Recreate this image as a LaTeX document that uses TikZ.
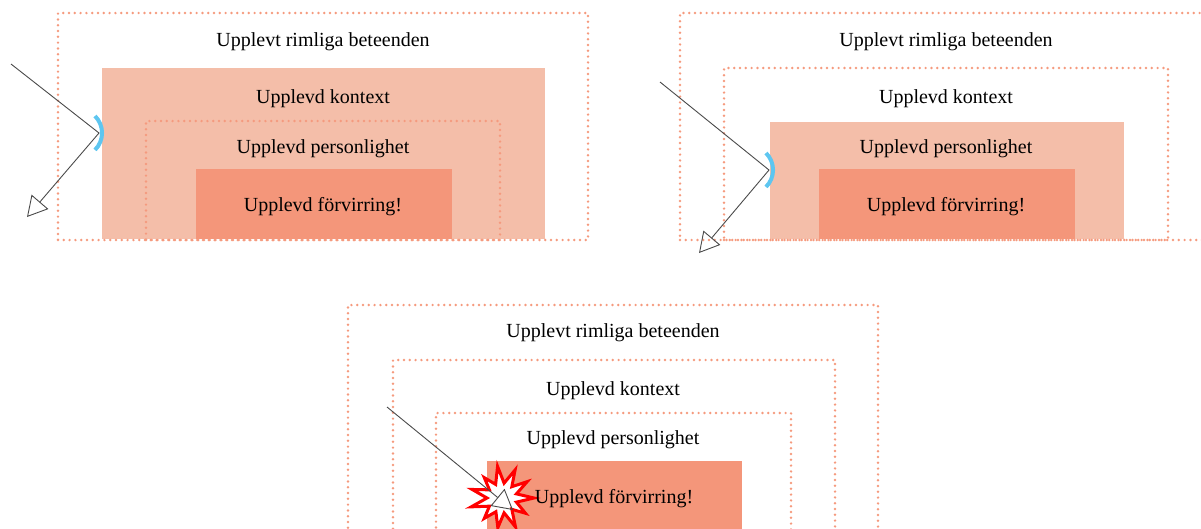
\documentclass[tikz,border=0pt]{standalone}
\usepackage{fontspec}
\setmainfont{Liberation Serif}
\usetikzlibrary{arrows.meta}
\definecolor{dotc}{HTML}{F59A7E}
\definecolor{lightfill}{HTML}{F4BEA9}
\definecolor{darkfill}{HTML}{F4967A}
\definecolor{mirrorc}{HTML}{5EC6F0}
\definecolor{raycol}{HTML}{4A4A4A}
\begin{document}
\begin{tikzpicture}[x=1pt,y=-1pt,
  frame/.style={draw=dotc, line width=2.7pt, line cap=round, dash pattern=on 0pt off 5.8pt,
    rectangle, anchor=north west, inner sep=0pt, outer sep=0pt},
  softbox/.style={fill=lightfill, rectangle, anchor=north west, inner sep=0pt, outer sep=0pt},
  corebox/.style={fill=darkfill, rectangle, anchor=north west, inner sep=0pt, outer sep=0pt},
  lbl/.style={anchor=base, font=\fontsize{20}{24}\selectfont, text=black, inner sep=0pt},
  ray/.style={draw=raycol, line width=0.9pt, line join=miter},
  raytip/.style={-{Triangle[open, length=20pt, width=22pt]}},
  mirror/.style={draw=mirrorc, line width=4pt},
  burst/.style={draw=red, fill=white, line width=3pt, line join=miter}
]
\useasboundingbox (0,0) rectangle (1201,528);
\clip (0,0) rectangle (1201,528);

% ---------- left panel: the ray is reflected by the context ----------
\node[softbox, minimum width=443pt, minimum height=171pt] (A-ctx) at (102,68) {};
\node[corebox, minimum width=256pt, minimum height=70pt] (A-core) at (196,169) {};
\node[frame, minimum width=530pt, minimum height=227pt] (A-out) at (58,13) {};
\node[frame, minimum width=354pt, minimum height=119pt] (A-pers) at (146,121) {};
\node[lbl] (A-t1) at (323,46) {Upplevt rimliga beteenden};
\node[lbl] (A-t2) at (323,103) {Upplevd kontext};
\node[lbl] (A-t3) at (323,153) {Upplevd personlighet};
\node[lbl] (A-t4) at (323,211) {Upplevd förvirring!};
\draw[mirror] (95,116) arc[start angle=-45, end angle=45, radius=24];
\coordinate (A-s) at (11,64);
\coordinate (A-b) at (99,133);
\coordinate (A-e) at (27,217);
\draw[ray, raytip] (A-s) -- (A-b) -- (A-e);

% ---------- right panel: the ray is reflected by the personality ----------
\node[softbox, minimum width=354pt, minimum height=117pt] (B-pers) at (770,122) {};
\node[corebox, minimum width=256pt, minimum height=70pt] (B-core) at (819,169) {};
\node[frame, minimum width=532pt, minimum height=227pt] (B-out) at (680,13) {};
\node[frame, minimum width=444pt, minimum height=172pt] (B-ctx) at (724,68) {};
\node[lbl] (B-t1) at (946,46) {Upplevt rimliga beteenden};
\node[lbl] (B-t2) at (946,103) {Upplevd kontext};
\node[lbl] (B-t3) at (946,153) {Upplevd personlighet};
\node[lbl] (B-t4) at (946,211) {Upplevd förvirring!};
\draw[mirror] (766,153) arc[start angle=-45, end angle=45, radius=24];
\coordinate (B-s) at (660,82);
\coordinate (B-b) at (769,170);
\coordinate (B-e) at (699,253);
\draw[ray, raytip] (B-s) -- (B-b) -- (B-e);

% ---------- bottom panel: the ray hits the confusion ----------
\node[corebox, minimum width=255pt, minimum height=90pt] (C-core) at (487,461) {};
\node[frame, minimum width=530pt, minimum height=260pt] (C-out) at (348,305) {};
\node[frame, minimum width=442pt, minimum height=200pt] (C-ctx) at (393,360) {};
\node[frame, minimum width=355pt, minimum height=150pt] (C-pers) at (436,413) {};
\node[lbl] (C-t1) at (613,337) {Upplevt rimliga beteenden};
\node[lbl] (C-t2) at (613,395) {Upplevd kontext};
\node[lbl] (C-t3) at (613,444) {Upplevd personlighet};
\begin{scope}[shift={(502,498)}]
  \draw[burst] (0:32) -- (16:15) -- (33:28) -- (49:15) -- (65:32) -- (82:15)
    -- (98:30) -- (114:15) -- (131:27) -- (147:15) -- (164:32) -- (180:15)
    -- (196:31) -- (213:15) -- (229:27) -- (245:15) -- (262:32) -- (278:15)
    -- (295:31) -- (311:15) -- (327:30) -- (344:15) -- cycle;
\end{scope}
\node[lbl] (C-t4) at (614,503) {Upplevd förvirring!};
\coordinate (C-s) at (387,407);
\coordinate (C-e) at (513,510);
\draw[ray, raytip] (C-s) -- (C-e);
\end{tikzpicture}
\end{document}
